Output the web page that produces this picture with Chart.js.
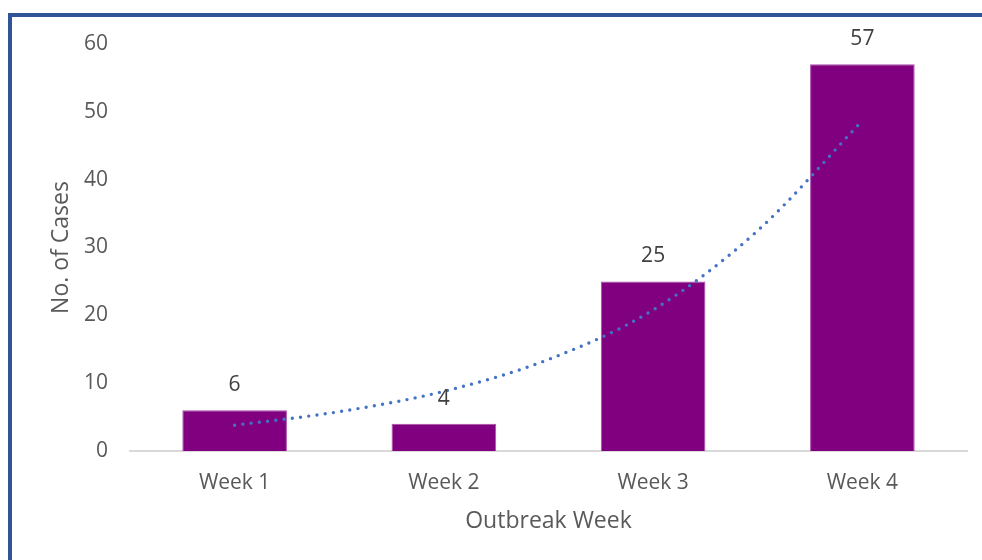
<!DOCTYPE html>
<html>
<head>
<meta charset="utf-8">
<script src="https://cdn.jsdelivr.net/npm/chart.js@4/dist/chart.umd.min.js"></script>
<style>
  html, body { margin: 0; padding: 0; background: #fff; }
  #wrap { position: relative; width: 982px; height: 560px; overflow: hidden; }
  #frame { position: absolute; left: 8px; top: 13px; width: 1000px; height: 600px;
           border-top: 4px solid #2F5597; border-left: 4px solid #2F5597; box-sizing: border-box; }
  canvas { position: absolute; left: 0; top: 0; }
</style>
</head>
<body>
<div id="wrap">
  <div id="frame"></div>
  <canvas id="c" width="982" height="560"></canvas>
</div>
<script>
const categories = ['Week 1', 'Week 2', 'Week 3', 'Week 4'];
const cases = [6, 4, 25, 57];
// exponential trendline, values
const trendX = [1, 1.5, 2, 2.5, 3, 3.5, 4];
const trendY = [3.8, 5.8, 8.8, 13.5, 20.8, 32.5, 48.7];
const yTicks = [0, 10, 20, 30, 40, 50, 60];

const FONT = '"Open Sans", "Noto Sans", sans-serif';

const valueLabels = {
  id: 'valueLabels',
  afterDatasetsDraw(chart) {
    const ctx = chart.ctx;
    const meta = chart.getDatasetMeta(0);
    ctx.save();
    ctx.font = '21px ' + FONT;
    ctx.fillStyle = '#404040';
    ctx.textAlign = 'center';
    ctx.textBaseline = 'middle';
    meta.data.forEach((el, i) => {
      ctx.fillText(String(cases[i]), el.x, el.y - 25);
    });
    ctx.restore();
  }
};

new Chart(document.getElementById('c'), {
  data: {
    labels: categories,
    datasets: [
      {
        type: 'bar',
        data: cases,
        backgroundColor: '#800080',
        borderColor: '#A94FA9',
        borderWidth: 1,
        grouped: false,
        barPercentage: 0.5,
        categoryPercentage: 1.0,
        order: 2
      },
      {
        type: 'line',
        xAxisID: 'xt',
        data: trendX.map((x, i) => ({ x: x, y: trendY[i] })),
        borderColor: '#4472C4',
        borderWidth: 3.4,
        borderDash: [0, 8.3],
        borderCapStyle: 'round',
        pointRadius: 0,
        cubicInterpolationMode: 'monotone',
        fill: false,
        order: 1
      }
    ]
  },
  options: {
    responsive: false,
    animation: false,
    devicePixelRatio: 1,
    layout: { padding: { top: 44, right: 15, bottom: 0, left: 0 } },
    plugins: { legend: { display: false }, tooltip: { enabled: false } },
    scales: {
      x: {
        type: 'category',
        offset: true,
        grid: { display: false, drawTicks: false },
        border: { display: true, color: '#D9D9D9', width: 2 },
        ticks: { color: '#595959', font: { family: FONT, size: 21 }, padding: 19 },
        title: { display: true, text: 'Outbreak Week', color: '#595959',
                 font: { family: FONT, size: 23 }, padding: { top: 0, bottom: 25 } },
        afterFit(s) { s.height = 109; }
      },
      xt: {
        type: 'linear',
        display: false,
        min: 0.5,
        max: 4.5
      },
      y: {
        min: 0,
        max: 60,
        afterBuildTicks(s) { s.ticks = yTicks.map(v => ({ value: v })); },
        grid: { display: false, drawTicks: false },
        border: { display: false },
        ticks: { color: '#595959', font: { family: FONT, size: 21 }, padding: 22 },
        title: { display: true, text: 'No. of Cases', color: '#595959',
                 font: { family: FONT, size: 23 }, padding: { top: 48, bottom: 0 } },
        afterFit(s) { s.width = 130; }
      }
    }
  },
  plugins: [valueLabels]
});
</script>
</body>
</html>
